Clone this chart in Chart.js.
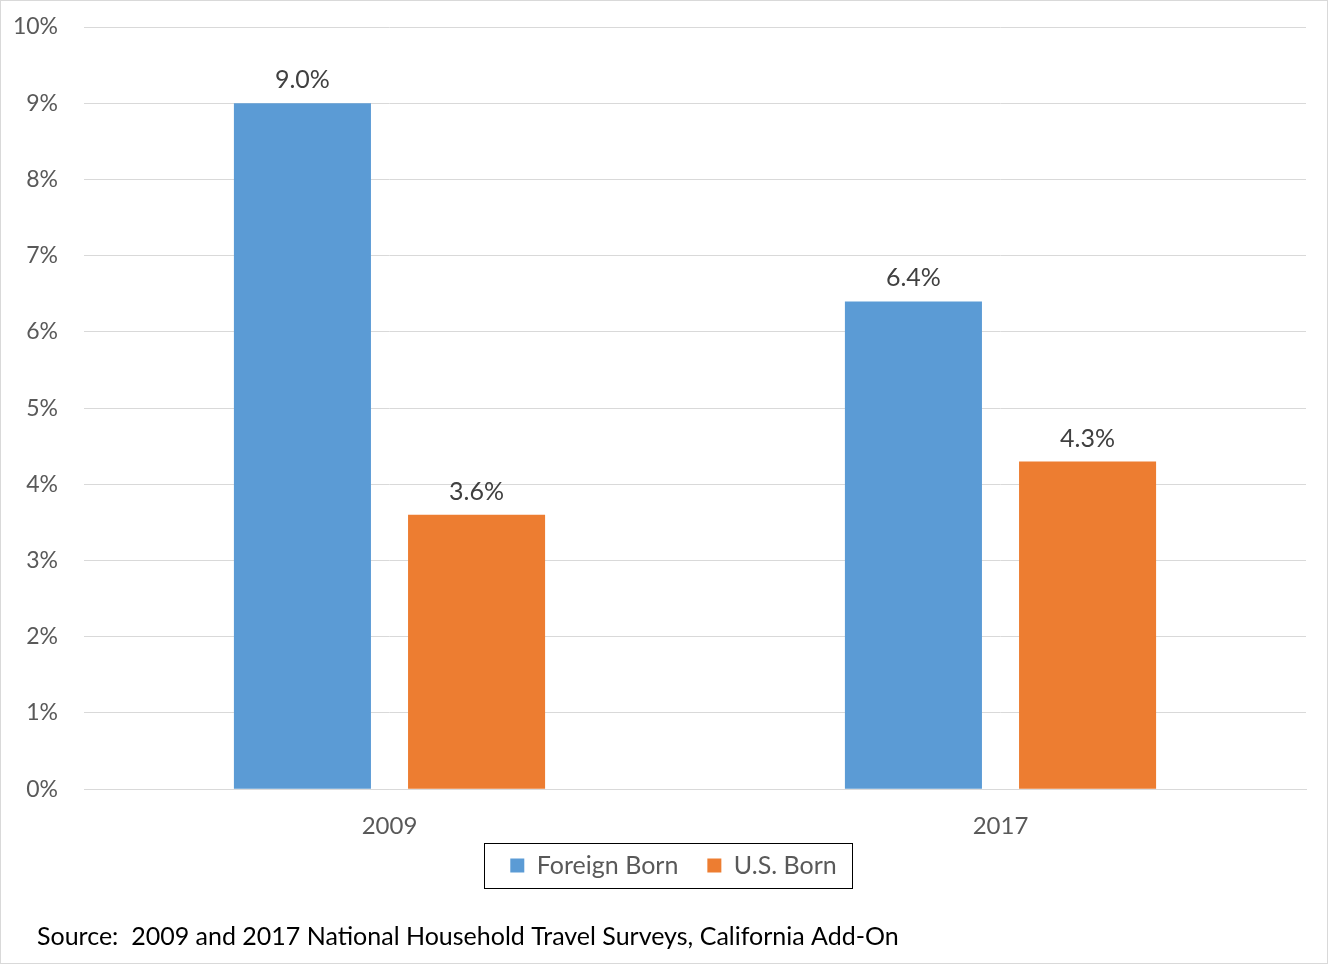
<!DOCTYPE html>
<html>
<head>
<meta charset="utf-8">
<script src="https://cdn.jsdelivr.net/npm/chart.js@4"></script>
<style>
  body { margin: 0; background: #fff; }
  #wrap { width: 1330px; height: 965px; }
</style>
</head>
<body>
<div id="wrap"><canvas id="travelChart" width="1330" height="965"></canvas></div>
<script>
const years = ["2009", "2017"];
const foreignBorn = [9.0, 6.4];
const usBorn = [3.6, 4.3];
const yTicks = [0, 1, 2, 3, 4, 5, 6, 7, 8, 9, 10];
const sourceNote = "Source:  2009 and 2017 National Household Travel Surveys, California Add-On";

const FONT = "Lato, 'Open Sans', sans-serif";
const GREY = "#595959";
const LEGEND_PAD = 29;
const LEGEND_FONT = 25;

// white background + thin outer frame
const framePlugin = {
  id: "frame",
  beforeDraw(chart) {
    const ctx = chart.ctx;
    ctx.save();
    ctx.fillStyle = "#fff";
    ctx.fillRect(0, 0, chart.width, chart.height);
    ctx.strokeStyle = "#d9d9d9";
    ctx.lineWidth = 1;
    ctx.strokeRect(0.5, 0.5, 1327, 963);
    ctx.restore();
  }
};

// value labels above each bar
const valueLabels = {
  id: "valueLabels",
  afterDatasetsDraw(chart) {
    const ctx = chart.ctx;
    ctx.save();
    ctx.font = "25px " + FONT;
    ctx.fillStyle = "#404040";
    ctx.textAlign = "center";
    ctx.textBaseline = "middle";
    chart.data.datasets.forEach((ds, i) => {
      chart.getDatasetMeta(i).data.forEach((bar, j) => {
        ctx.fillText(ds.data[j].toFixed(1) + "%", bar.x, bar.y - 23);
      });
    });
    ctx.restore();
  }
};

// pull the legend up under the axis labels and nudge it right
const legendPlace = {
  id: "legendPlace",
  afterLayout(chart) {
    const lg = chart.legend;
    const itemCenter = lg.top + LEGEND_PAD + LEGEND_FONT * 1.2 / 2;
    const dy = Math.round(868 - itemCenter);
    const dx = Math.round(673 - (lg.left + lg.right) / 2);
    lg.top += dy; lg.bottom += dy;
    lg.left += dx; lg.right += dx;
  }
};

// black box around the legend + source note
const legendBox = {
  id: "legendBox",
  afterDraw(chart) {
    const ctx = chart.ctx;
    const boxes = chart.legend.legendHitBoxes;
    ctx.save();
    if (boxes && boxes.length) {
      const left = Math.min(...boxes.map(b => b.left));
      const right = Math.max(...boxes.map(b => b.left + b.width));
      const mid = (Math.min(...boxes.map(b => b.top)) + Math.max(...boxes.map(b => b.top + b.height))) / 2;
      ctx.strokeStyle = "#000";
      ctx.lineWidth = 1;
      ctx.strokeRect(Math.round(left - 26) + 0.5, Math.round(mid - 22.5) + 0.5,
        Math.round(right - left + 42), 45);
    }
    ctx.font = "25px " + FONT;
    ctx.fillStyle = "#000";
    ctx.textAlign = "left";
    ctx.textBaseline = "middle";
    ctx.fillText(sourceNote, 37, 937);
    ctx.restore();
  }
};

new Chart(document.getElementById("travelChart"), {
  type: "bar",
  data: {
    labels: years,
    datasets: [
      {
        label: "Foreign Born",
        data: foreignBorn,
        backgroundColor: "#5B9BD5",
        categoryPercentage: 0.57,
        barPercentage: 0.787
      },
      {
        label: "U.S. Born",
        data: usBorn,
        backgroundColor: "#ED7D31",
        categoryPercentage: 0.57,
        barPercentage: 0.787
      }
    ]
  },
  options: {
    responsive: false,
    animation: false,
    layout: { padding: { left: 13, right: 24, top: 27, bottom: 45 } },
    plugins: {
      tooltip: { enabled: false },
      legend: {
        position: "bottom",
        labels: {
          font: { family: FONT, size: LEGEND_FONT },
          color: GREY,
          boxWidth: 14,
          boxHeight: 14,
          padding: LEGEND_PAD
        }
      }
    },
    scales: {
      x: {
        grid: { display: false },
        border: { color: "#d9d9d9" },
        ticks: { font: { family: FONT, size: 24 }, color: GREY, padding: 15 }
      },
      y: {
        min: 0,
        max: 10,
        afterBuildTicks(axis) {
          axis.ticks = yTicks.map(v => ({ value: v }));
        },
        afterFit(axis) {
          axis.width = 71;
          axis.paddingTop = 0;
          axis.paddingBottom = 0;
        },
        grid: { color: "#d9d9d9", drawTicks: false },
        border: { display: false },
        ticks: {
          font: { family: FONT, size: 23 },
          color: GREY,
          padding: 26,
          callback: v => v + "%"
        }
      }
    }
  },
  plugins: [framePlugin, valueLabels, legendPlace, legendBox]
});
</script>
</body>
</html>
